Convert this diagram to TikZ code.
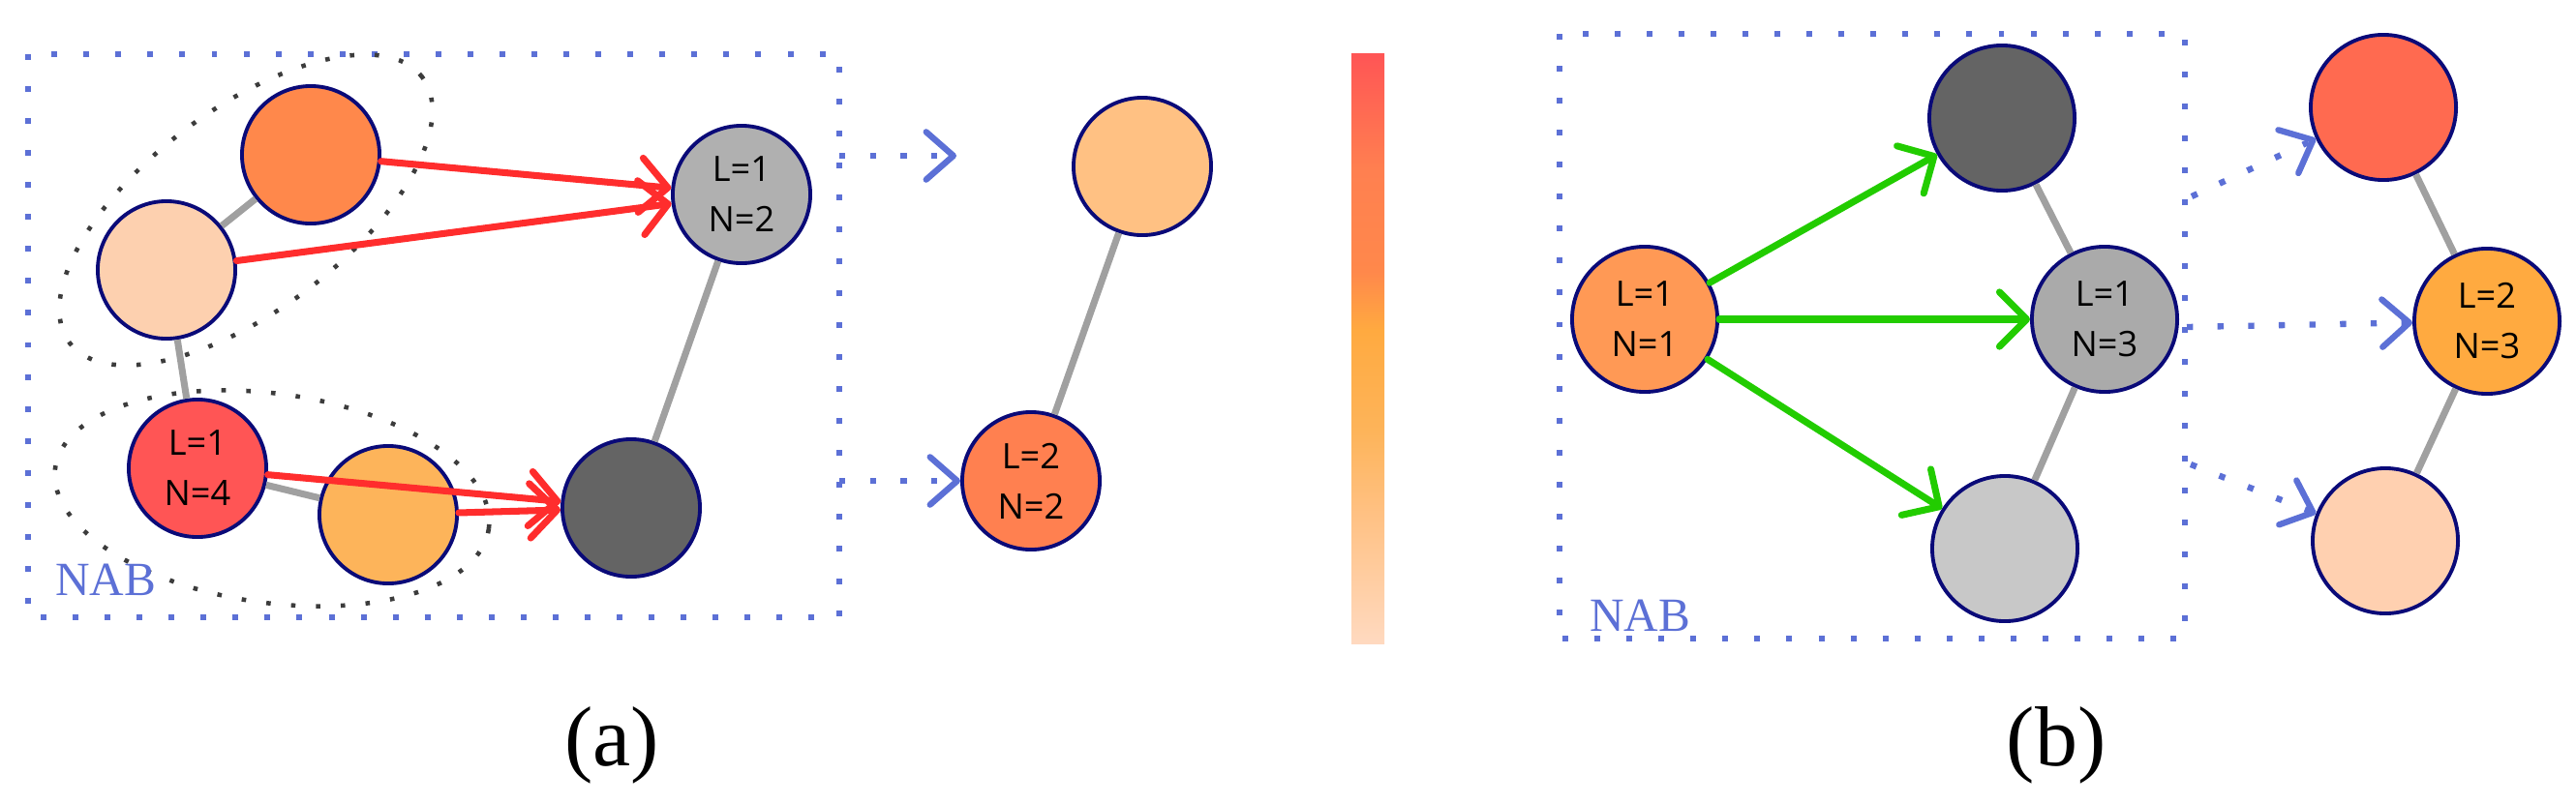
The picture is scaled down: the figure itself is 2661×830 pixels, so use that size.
\documentclass[tikz,border=0pt]{standalone}
\usepackage{fontspec}
\setmainfont{Liberation Serif}
\newfontfamily\nodefont{Open Sans}
\usetikzlibrary{arrows.meta}
\definecolor{nabblue}{RGB}{92,112,214}
\definecolor{navyline}{RGB}{10,10,120}
\definecolor{edgegray}{RGB}{160,160,160}
\definecolor{arrred}{RGB}{255,45,45}
\definecolor{arrgreen}{RGB}{34,204,0}
\definecolor{grpdot}{RGB}{60,60,60}
\definecolor{cAone}{RGB}{255,136,75}
\definecolor{cAtwo}{RGB}{253,208,175}
\definecolor{cAthree}{RGB}{176,176,176}
\definecolor{cAfour}{RGB}{255,85,85}
\definecolor{cAfive}{RGB}{253,180,90}
\definecolor{cdark}{RGB}{100,100,100}
\definecolor{cPone}{RGB}{255,193,131}
\definecolor{cPtwo}{RGB}{255,128,80}
\definecolor{cBone}{RGB}{255,153,85}
\definecolor{cBthree}{RGB}{170,170,170}
\definecolor{cBfour}{RGB}{200,200,200}
\definecolor{cBfive}{RGB}{255,106,80}
\definecolor{cBsix}{RGB}{255,170,64}
\definecolor{cBseven}{RGB}{255,208,176}
\pgfdeclareverticalshading{cbar}{100bp}{%
  color(0bp)=(cBseven!80!white); color(25bp)=(cBseven!80!white);
  color(36bp)=(cPone); color(42.9bp)=(cAfive); color(51.5bp)=(cBsix);
  color(56.5bp)=(cAone); color(65bp)=(cPtwo); color(75bp)=(cAfour);
  color(100bp)=(cAfour)}
\begin{document}
\begin{tikzpicture}[x=0.01cm,y=-0.01cm,
  nd/.style={circle,draw=navyline,line width=1.1pt,minimum size=1.42cm,inner sep=0pt,
    align=center,font=\nodefont\fontsize{10.3}{14.8}\selectfont},
  ndb/.style={nd,minimum size=1.5cm},
  gedge/.style={draw=edgegray,line width=2pt},
  redarr/.style={draw=arrred,line width=2pt,line cap=round,-{Straight Barb[length=8pt,width=16pt,round]}},
  greenarr/.style={draw=arrgreen,line width=2pt,line cap=round,-{Straight Barb[length=8pt,width=16pt,round]}},
  nabdots/.style={draw=nabblue,line width=1.7pt,dash pattern=on 1.7pt off 7.7pt},
  nabarr/.style={draw=nabblue,line width=1.8pt,dash pattern=on 1.8pt off 7.2pt,
    -{Straight Barb[length=8pt,width=14pt,round]}},
  grpdots/.style={draw=grpdot,line width=1.3pt,dash pattern=on 1.3pt off 6pt},
  nabtxt/.style={text=nabblue,font=\fontsize{14}{16}\selectfont,inner sep=0pt},
  caption/.style={font=\fontsize{25}{29}\selectfont,inner sep=0pt}
]
\useasboundingbox (0,0) rectangle (2661,830);

% ---------- panel (a) ----------
\draw[nabdots] (29,56) rectangle (867,638);
\draw[grpdots,shift={(254,217)},rotate=37] (0,0) ellipse [x radius=2.28cm,y radius=1.04cm];
\draw[grpdots,shift={(281,515)},rotate=-8] (0,0) ellipse [x radius=2.26cm,y radius=1.08cm];

\node[nd,fill=cAone] (A1) at (321,160) {};
\node[nd,fill=cAtwo] (A2) at (172,279) {};
\node[nd,fill=cAthree] (A3) at (766,201) {L=1\\N=2};
\node[nd,fill=cAfour] (A4) at (204,484) {L=1\\N=4};
\node[nd,fill=cAfive] (A5) at (401,532) {};
\node[nd,fill=cdark] (A6) at (652,525) {};
\node[nabtxt] (nab1) at (109,599) {NAB};

\draw[gedge] (A1) -- (A2);
\draw[gedge] (A2) -- (A4);
\draw[gedge] (A4) -- (A5);
\draw[gedge] (A3) -- (A6);

\draw[redarr] (A1) -- (A3);
\draw[redarr] (A2) -- (A3);
\draw[redarr] (A4) -- (A6);
\draw[redarr] (A5) -- (A6);

\node[nd,fill=cPone] (P1) at (1180,172) {};
\node[nd,fill=cPtwo] (P2) at (1065,497) {L=2\\N=2};
\draw[gedge] (P1) -- (P2);

\coordinate (da1) at (867,161);
\coordinate (da2) at (988,161);
\coordinate (db1) at (867,497);
\draw[nabarr] (da1) -- (da2);
\draw[nabarr] (db1) -- (P2);

\shade[shading=cbar] (1396,55) rectangle (1430,665);

\node[caption] (capa) at (632,770) {(a)};

% ---------- panel (b) ----------
\draw[nabdots] (1611,35) rectangle (2257,660);
\node[ndb,fill=cBone] (B1) at (1699,330) {L=1\\N=1};
\node[ndb,fill=cdark] (B2) at (2068,122) {};
\node[ndb,fill=cBthree] (B3) at (2174,330) {L=1\\N=3};
\node[ndb,fill=cBfour] (B4) at (2071,567) {};
\node[ndb,fill=cBfive] (B5) at (2462,111) {};
\node[ndb,fill=cBsix] (B6) at (2569,332) {L=2\\N=3};
\node[ndb,fill=cBseven] (B7) at (2464,559) {};
\node[nabtxt] (nab2) at (1694,636) {NAB};

\draw[gedge] (B2) -- (B3);
\draw[gedge] (B3) -- (B4);
\draw[gedge] (B5) -- (B6);
\draw[gedge] (B6) -- (B7);

\draw[greenarr] (B1) -- (B2);
\draw[greenarr] (B1) -- (B3);
\draw[greenarr] (B1) -- (B4);

\coordinate (dc1) at (2264,203);
\coordinate (dc2) at (2259,338);
\coordinate (dc3) at (2263,480);
\draw[nabarr] (dc1) -- (B5);
\draw[nabarr] (dc2) -- (B6);
\draw[nabarr] (dc3) -- (B7);

\node[caption] (capb) at (2124,770) {(b)};
\end{tikzpicture}
\end{document}
